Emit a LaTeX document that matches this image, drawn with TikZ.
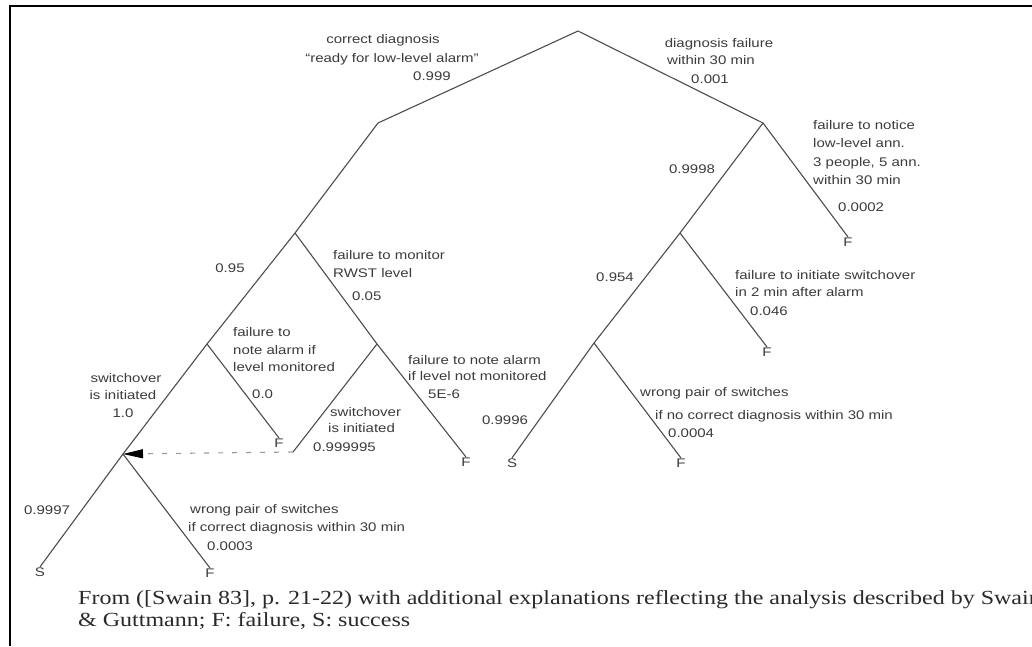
\documentclass[tikz,border=0pt]{standalone}
\usepackage{fontspec}
\usetikzlibrary{arrows.meta}
\newfontfamily\treefont[FakeStretch=1.2]{Liberation Sans}
\newfontfamily\capfont[FakeStretch=1.2]{Liberation Serif}
\definecolor{linegray}{HTML}{4D4D4D}
\definecolor{txtgray}{HTML}{3C3C3C}
\definecolor{dashgray}{HTML}{9A9A9A}
\definecolor{capgray}{HTML}{2A2A2A}
\tikzset{
  lab/.style={font=\treefont\fontsize{12.5}{15}\selectfont, text=txtgray, inner sep=0pt, anchor=base west},
  labc/.style={lab, anchor=base},
  term/.style={font=\treefont\fontsize{12.5}{15}\selectfont, text=txtgray, inner sep=0.5pt},
  branch/.style={draw=linegray, line width=1.1pt},
  captext/.style={font=\capfont\fontsize{20}{23}\selectfont, text=capgray, inner sep=0pt, anchor=base west},
}
\begin{document}
\begin{tikzpicture}[x=1pt,y=-1pt]
\useasboundingbox (0,0) rectangle (1032,646);
\fill[white] (0,0) rectangle (1032,646);
% frame
\coordinate (fbl) at (10,646);
\coordinate (ftl) at (10,6);
\coordinate (ftr) at (1032,6);
\draw[line width=2pt, black] (fbl) -- (ftl) -- (ftr);
% junctions
\coordinate (r) at (578,31);
\coordinate (a) at (378,123);
\coordinate (b) at (763,123);
\coordinate (b1) at (680,233);
\coordinate (b2) at (594,343);
\coordinate (a1) at (295,233);
\coordinate (a2) at (207,344);
\coordinate (a3) at (377,344);
\coordinate (a3s) at (293,452);
\coordinate (c) at (123,454);
% terminals
\node[term] (bF) at (848,242) {F};
\node[term] (b1F) at (767,352) {F};
\node[term] (b2S) at (512,463) {S};
\node[term] (b2F) at (681,463) {F};
\node[term] (a2F) at (279,443) {F};
\node[term] (a3F) at (466,462) {F};
\node[term] (cS) at (40,572) {S};
\node[term] (cF) at (210,573) {F};
% branches
\draw[branch] (a) -- (r) -- (b);
\draw[branch] (b) -- (bF.north);
\draw[branch] (b) -- (b1);
\draw[branch] (b1) -- (b1F.north);
\draw[branch] (b1) -- (b2);
\draw[branch] (b2) -- (b2S.north);
\draw[branch] (b2) -- (b2F.north);
\draw[branch] (a) -- (a1);
\draw[branch] (a1) -- (a2);
\draw[branch] (a1) -- (a3);
\draw[branch] (a2) -- (a2F.north);
\draw[branch] (a2) -- (c);
\draw[branch] (a3) -- (a3F.north);
\draw[branch] (a3) -- (a3s);
\draw[branch] (c) -- (cS.north);
\draw[branch] (c) -- (cF.north);
\draw[draw=dashgray, line width=1.1pt, dash pattern=on 5pt off 9pt,
  -{Triangle[length=20pt,width=9pt,black,fill=black]}] (a3s) -- (c);
% labels
\node[labc] (l1) at (383,43) {correct diagnosis};
\node[labc] (l2) at (392,62) {“ready for low-level alarm”};
\node[labc] (l3) at (432,80) {0.999};
\node[labc] (l4) at (719,47) {diagnosis failure};
\node[labc] (l5) at (711,64) {within 30 min};
\node[labc] (l6) at (710,83) {0.001};
\node[lab] (l7) at (813,129) {failure to notice};
\node[lab] (l8) at (813,147) {low-level ann.};
\node[lab] (l9) at (813,166) {3 people, 5 ann.};
\node[lab] (l10) at (813,184) {within 30 min};
\node[lab] (l11) at (838,211) {0.0002};
\node[labc] (l12) at (692,173) {0.9998};
\node[labc] (l13) at (615,281) {0.954};
\node[lab] (l14) at (735,279) {failure to initiate switchover};
\node[lab] (l15) at (735,296) {in 2 min after alarm};
\node[lab] (l16) at (750,315) {0.046};
\node[lab] (l17) at (640,396) {wrong pair of switches};
\node[lab] (l18) at (655,419) {if no correct diagnosis within 30 min};
\node[lab] (l19) at (668,437) {0.0004};
\node[labc] (l20) at (505,424) {0.9996};
\node[labc] (l21) at (230,272) {0.95};
\node[lab] (l22) at (333,259) {failure to monitor};
\node[lab] (l23) at (333,277) {RWST level};
\node[lab] (l24) at (352,300) {0.05};
\node[lab] (l25) at (233,336) {failure to};
\node[lab] (l26) at (233,354) {note alarm if};
\node[lab] (l27) at (233,371) {level monitored};
\node[lab] (l28) at (252,398) {0.0};
\node[lab] (l29) at (330,416) {switchover};
\node[lab] (l30) at (328,432) {is initiated};
\node[lab] (l31) at (313,451) {0.999995};
\node[lab] (l32) at (408,364) {failure to note alarm};
\node[lab] (l33) at (408,380) {if level not monitored};
\node[lab] (l34) at (428,398) {5E-6};
\node[labc] (l35) at (126,382) {switchover};
\node[labc] (l36) at (123,399) {is initiated};
\node[labc] (l37) at (123,417) {1.0};
\node[labc] (l38) at (47,514) {0.9997};
\node[lab] (l39) at (190,513) {wrong pair of switches};
\node[lab] (l40) at (188,531) {if correct diagnosis within 30 min};
\node[lab] (l41) at (207,550) {0.0003};
% caption
\node[captext] (cap1) at (78,604) {From ([Swain 83], p. 21-22) with additional explanations reflecting the analysis described by Swain};
\node[captext] (cap2) at (78,626) {\& Guttmann; F: failure, S: success};
\end{tikzpicture}
\end{document}
